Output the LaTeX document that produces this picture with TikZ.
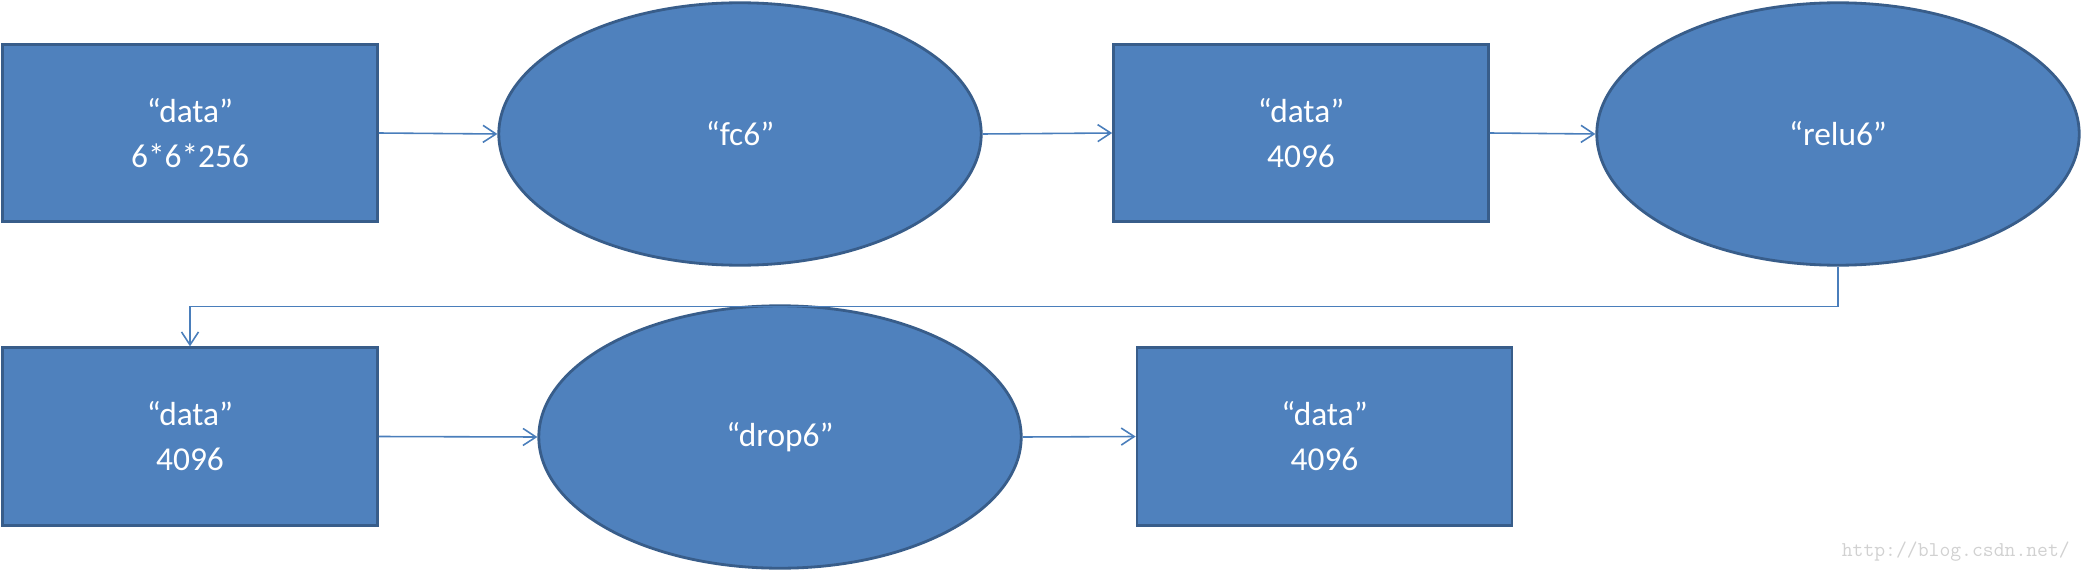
\documentclass[tikz,border=0pt]{standalone}
\usepackage{fontspec}
\setmainfont{Carlito}
\usetikzlibrary{shapes.geometric,arrows.meta}
\definecolor{boxblue}{HTML}{4F81BD}
\definecolor{boxedge}{HTML}{385D8A}
\definecolor{linkblue}{HTML}{4A7EBB}
\begin{document}
\begin{tikzpicture}[x=0.02cm,y=-0.02cm,
    layerbox/.style={draw=boxedge, line width=1.6pt, fill=boxblue, text=white,
        minimum width=7.5cm, minimum height=3.55cm, inner sep=0pt, align=center,
        font=\fontsize{19}{25.6}\selectfont},
    blobnode/.style={ellipse, draw=boxedge, line width=1.6pt, fill=boxblue, text=white,
        minimum width=9.65cm, minimum height=5.25cm, inner sep=0pt, align=center,
        font=\fontsize{19}{25.6}\selectfont},
    link/.style={draw=linkblue, line width=0.9pt, -{Straight Barb[length=0.26cm,width=0.34cm]}}]
        \useasboundingbox (0,0) rectangle (2082,571);

        % First row
        \node[layerbox] (data1) at (190,133) {“data”\\6*6*256};
        \node[blobnode] (fc6) at (740,134) {“fc6”};
        \node[layerbox] (data2) at (1301,133) {“data”\\4096};
        \node[blobnode] (relu6) at (1838,134) {“relu6”};

        % Second row
        \node[layerbox] (data3) at (190,436.5) {“data”\\4096};
        \node[blobnode] (drop6) at (780,437) {“drop6”};
        \node[layerbox] (data4) at (1324.5,436.5) {“data”\\4096};

        % Connectors
        \draw[link] (data1.east) -- (fc6.west);
        \draw[link] (fc6.east) -- (data2.west);
        \draw[link] (data2.east) -- (relu6.west);
        \draw[link] (relu6.south) -- ++(0,40) -| (data3.north);
        \draw[link] (data3.east) -- (drop6.west);
        \draw[link] (drop6.east) -- (data4.west);

        % Watermark
        \node[anchor=east, text=black!18, font=\ttfamily\fontsize{12}{14}\selectfont] (mark) at (2076,552) {http://blog.csdn.net/};
\end{tikzpicture}
\end{document}
